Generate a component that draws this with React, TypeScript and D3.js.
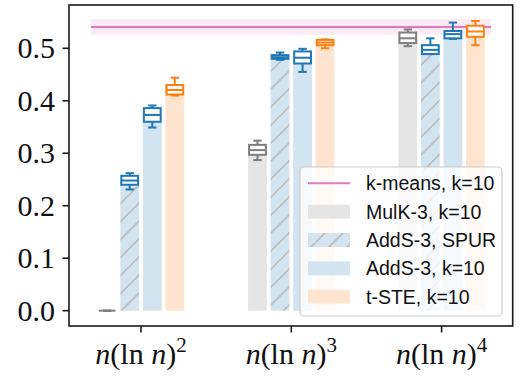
import * as d3 from "d3";

// exponent of n(ln n)^k on the x axis
const categories = ["2", "3", "4"];
const seriesNames = ["MulK-3, k=10", "AddS-3, SPUR", "AddS-3, k=10", "t-STE, k=10"];
const seriesColors = ["#7f7f7f", "#1f77b4", "#1f77b4", "#ff7f0e"];
const seriesHatched = [false, true, false, false];

// each entry: [low whisker, q1, median, q3, high whisker]
const mulkStats = [
  [0, 0, 0, 0, 0],
  [0.287, 0.297, 0.306, 0.316, 0.324],
  [0.504, 0.51, 0.519, 0.53, 0.536],
];
const spurStats = [
  [0.231, 0.24, 0.248, 0.257, 0.262],
  [0.478, 0.48, 0.483, 0.487, 0.492],
  [0.489, 0.489, 0.497, 0.506, 0.519],
];
const addsStats = [
  [0.349, 0.36, 0.373, 0.386, 0.391],
  [0.455, 0.471, 0.482, 0.494, 0.499],
  [0.518, 0.519, 0.527, 0.533, 0.549],
];
const tsteStats = [
  [0.41, 0.412, 0.4205, 0.43, 0.444],
  [0.5, 0.506, 0.511, 0.516, 0.517],
  [0.506, 0.522, 0.532, 0.543, 0.552],
];
const allStats = [mulkStats, spurStats, addsStats, tsteStats];

const kmeansValue = 0.5405;
const kmeansBand = [0.526, 0.556];
const kmeansSpan = [-0.333, 2.329];

const yTicks = [0, 0.1, 0.2, 0.3, 0.4, 0.5];

const W = 529;
const H = 389;
const left = 69;
const right = 512.7;
const top = 5;
const bottom = 326;

const barStep = 0.15;
const barWidth = 0.125;

function lighten(c: string, a: number) {
  const rgb = d3.rgb(c);
  const mix = (v: number) => Math.round(255 - a * (255 - v));
  return d3.rgb(mix(rgb.r), mix(rgb.g), mix(rgb.b)).formatHex();
}

export default function App() {
  const x = d3.scaleLinear().domain([-0.479, 2.473]).range([left, right]);
  const y = d3.scaleLinear().domain([-0.0292, 0.5825]).range([bottom, top]);
  const pxW = x(barWidth) - x(0);

  const legendRows = ["k-means, k=10", ...seriesNames];

  return (
    <svg
      width={W}
      height={H}
      style={{ position: "absolute", left: 0, top: 0, background: "#fff" }}
    >
      <defs>
        <pattern id="hatch" patternUnits="userSpaceOnUse" width={18} height={18}>
          <rect width={18} height={18} fill={lighten("#1f77b4", 0.2)} />
          <path
            d="M-2,20 L20,-2 M-2,2 L2,-2 M16,20 L20,16"
            stroke="#bdbdbd"
            strokeWidth={1.6}
          />
        </pattern>
      </defs>

      {/* k-means reference */}
      <rect
        x={x(kmeansSpan[0])}
        y={y(kmeansBand[1])}
        width={x(kmeansSpan[1]) - x(kmeansSpan[0])}
        height={y(kmeansBand[0]) - y(kmeansBand[1])}
        fill="#e377c2"
        opacity={0.15}
      />
      <line
        x1={x(kmeansSpan[0])}
        x2={x(kmeansSpan[1])}
        y1={y(kmeansValue)}
        y2={y(kmeansValue)}
        stroke="#e377c2"
        strokeWidth={2}
      />

      {/* bars */}
      {allStats.map((stats, s) =>
        stats.map((st, i) => {
          const cx = x(i + (s - 1.5) * barStep);
          const med = st[2];
          if (med <= 0) return null;
          return (
            <rect
              key={`bar-${s}-${i}`}
              x={cx - pxW / 2}
              y={y(med)}
              width={pxW}
              height={y(0) - y(med)}
              fill={seriesHatched[s] ? "url(#hatch)" : lighten(seriesColors[s], 0.2)}
            />
          );
        })
      )}

      {/* boxplots */}
      {allStats.map((stats, s) =>
        stats.map((st, i) => {
          const cx = x(i + (s - 1.5) * barStep);
          const bw = pxW - 2;
          const cw = bw / 2;
          const c = seriesColors[s];
          const [lo, q1, med, q3, hi] = st;
          return (
            <g key={`box-${s}-${i}`} stroke={c} strokeWidth={2} fill="none">
              <line x1={cx} x2={cx} y1={y(hi)} y2={y(q3)} />
              <line x1={cx} x2={cx} y1={y(q1)} y2={y(lo)} />
              <line x1={cx - cw / 2} x2={cx + cw / 2} y1={y(hi)} y2={y(hi)} />
              <line x1={cx - cw / 2} x2={cx + cw / 2} y1={y(lo)} y2={y(lo)} />
              <rect
                x={cx - bw / 2}
                y={y(q3)}
                width={bw}
                height={y(q1) - y(q3)}
                fill="#fff"
              />
              <line x1={cx - bw / 2} x2={cx + bw / 2} y1={y(med)} y2={y(med)} />
            </g>
          );
        })
      )}

      {/* legend */}
      <g>
        <rect
          x={300}
          y={167}
          width={202}
          height={149}
          rx={4}
          fill="#fff"
          fillOpacity={0.8}
          stroke="#cccccc"
          strokeWidth={1.2}
        />
        {legendRows.map((name, r) => {
          const cy = 183.3 + r * 28.35;
          return (
            <g key={name}>
              {r === 0 ? (
                <line x1={308} x2={350} y1={cy} y2={cy} stroke="#e377c2" strokeWidth={2} />
              ) : (
                <rect
                  x={308}
                  y={cy - 7}
                  width={42}
                  height={14}
                  fill={
                    seriesHatched[r - 1] ? "url(#hatch)" : lighten(seriesColors[r - 1], 0.2)
                  }
                />
              )}
              <text
                x={366}
                y={cy}
                dy="0.36em"
                fontFamily="'Liberation Sans', sans-serif"
                fontSize={19.5}
                fill="#111"
              >
                {name}
              </text>
            </g>
          );
        })}
      </g>

      {/* axes frame */}
      <rect
        x={left}
        y={top}
        width={right - left}
        height={bottom - top}
        fill="none"
        stroke="#1a1a1a"
        strokeWidth={1.6}
      />

      {/* y axis */}
      {yTicks.map((t) => (
        <g key={t}>
          <line x1={left - 6.5} x2={left} y1={y(t)} y2={y(t)} stroke="#1a1a1a" strokeWidth={1.6} />
          <text
            x={left - 14}
            y={y(t)}
            dy="0.33em"
            textAnchor="end"
            fontFamily="'Liberation Serif', serif"
            fontSize={30}
            fill="#111"
          >
            {d3.format(".1f")(t)}
          </text>
        </g>
      ))}

      {/* x axis */}
      {categories.map((k, i) => (
        <g key={k}>
          <line
            x1={x(i)}
            x2={x(i)}
            y1={bottom}
            y2={bottom + 6.5}
            stroke="#1a1a1a"
            strokeWidth={1.6}
          />
          <text
            x={x(i)}
            y={364}
            textAnchor="middle"
            fontFamily="'Liberation Serif', serif"
            fontSize={30}
            fill="#111"
          >
            <tspan fontStyle="italic">n</tspan>
            <tspan>(ln </tspan>
            <tspan fontStyle="italic">n</tspan>
            <tspan>)</tspan>
            <tspan fontSize={21} dy={-12}>
              {k}
            </tspan>
          </text>
        </g>
      ))}
    </svg>
  );
}
